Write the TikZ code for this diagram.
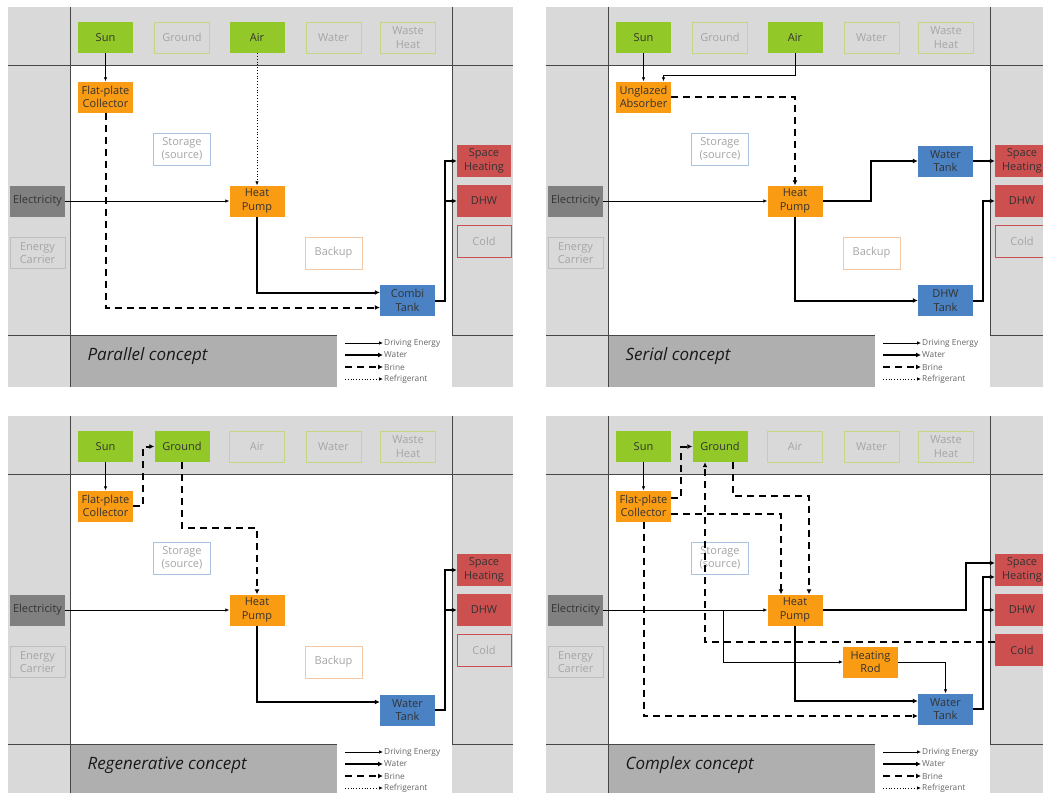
\documentclass[tikz,border=0pt]{standalone}
\usepackage{fontspec}
\setmainfont{Open Sans}
\usepackage{xcolor}
\usepackage{tikz}
\usetikzlibrary{arrows.meta, calc, positioning}

\definecolor{bandgray}{RGB}{217,217,217}
\definecolor{capgray}{RGB}{175,175,175}
\definecolor{framegray}{RGB}{70,70,70}
\definecolor{sungreen}{RGB}{146,200,40}
\definecolor{paleolive}{RGB}{196,215,130}
\definecolor{fadegray}{RGB}{165,165,165}
\definecolor{convorange}{RGB}{250,155,20}
\definecolor{tankblue}{RGB}{75,130,195}
\definecolor{sinkred}{RGB}{205,80,80}
\definecolor{elecgray}{RGB}{128,128,128}
\definecolor{storeblue}{RGB}{170,195,225}
\definecolor{backorange}{RGB}{245,200,165}
\definecolor{carriergray}{RGB}{190,190,190}

\newcommand{\boxfont}{\fontsize{11}{13.5}\selectfont}

\tikzset{
  box/.style={minimum width=55, minimum height=31, inner sep=0.5pt, align=center, font=\boxfont, text=black!80},
  srcon/.style={box, fill=sungreen},
  srcoff/.style={box, draw=paleolive, line width=0.9pt, text=fadegray},
  convbox/.style={box, fill=convorange},
  tankbox/.style={box, fill=tankblue},
  sinkon/.style={box, fill=sinkred, minimum width=54, minimum height=32},
  sinkoff/.style={box, draw=sinkred, line width=0.9pt, text=fadegray, minimum width=54, minimum height=32},
  elecbox/.style={box, fill=elecgray},
  carrierbox/.style={box, draw=carriergray, line width=0.9pt, text=fadegray},
  storebox/.style={box, fill=white, draw=storeblue, line width=0.9pt, text=fadegray, minimum width=57, minimum height=32},
  backupbox/.style={box, fill=white, draw=backorange, line width=0.9pt, text=fadegray, minimum width=57, minimum height=32},
  frameline/.style={draw=framegray, line width=1pt},
  drive/.style={line width=0.7pt, -{Latex[length=4pt,width=3.5pt]}},
  water/.style={line width=2pt, -{Latex[length=5pt,width=5pt]}},
  brine/.style={line width=2pt, dash pattern=on 7pt off 5pt, -{Latex[length=5pt,width=5pt]}},
  refrig/.style={line width=0.8pt, dotted, -{Latex[length=4pt,width=3.5pt]}},
  legtext/.style={font=\fontsize{8.3}{10}\selectfont, text=black!60, inner sep=1pt, anchor=west},
  caption/.style={font=\fontsize{17}{20}\selectfont\itshape, text=black!90, anchor=west},
}

% frame, legend and the nodes that every concept shares
\newcommand{\conceptframe}[1]{%
  \fill[bandgray] (8,7) rectangle (513,387);
  \fill[white] (70,65) rectangle (452,335);
  \fill[white] (337,335) rectangle (452,387);
  \fill[capgray] (70,335) rectangle (337,387);
  \draw[frameline] (70,7) -- (70,387);
  \draw[frameline] (452,7) -- (452,335);
  \draw[frameline] (8,65) -- (513,65);
  \draw[frameline] (8,335) -- (337,335);
  \draw[frameline] (452,335) -- (513,335);
  \node[caption] (title) at (84,356) {#1};
  % legend
  \foreach \i/\yy/\st/\lab in {1/343/drive/Driving Energy, 2/355/water/Water, 3/367/brine/Brine, 4/379/refrig/Refrigerant}{
    \coordinate (legs\i) at (345,\yy);
    \node[legtext] (leg\i) at (383,\yy) {\lab};
    \draw[\st] (legs\i) -- (leg\i);
  }
  % sources, storage, driving energy and sinks
  \node[srcon] (sun) at (105.5,37.5) {Sun};
  \node[srcoff] (water) at (333.5,37.5) {Water};
  \node[srcoff] (waste) at (408,37.5) {Waste\\Heat};
  \node[storebox] (store) at (182,149) {Storage\\(source)};
  \node[convbox] (hp) at (257,201) {Heat\\Pump};
  \node[elecbox] (elec) at (37.5,201) {Electricity};
  \node[carrierbox] (carrier) at (37.5,253) {Energy\\Carrier};
  \node[sinkon] (sh) at (484,161) {Space\\Heating};
  \node[sinkon] (dhw) at (484,201) {DHW};
}

\begin{document}
\begin{tikzpicture}[x=1pt, y=-1pt]
  \useasboundingbox (0,0) rectangle (1043,792);

  % Parallel concept
  \begin{scope}[name prefix=pa-]
    \conceptframe{Parallel concept}
    \node[srcoff] (ground) at (182,37.5) {Ground};
    \node[srcon] (air) at (257,37.5) {Air};
    \node[sinkoff] (cold) at (484,241) {Cold};
    \node[backupbox] (backup) at (333.5,253) {Backup};
    \node[convbox] (coll) at (105.5,97) {Flat-plate\\Collector};
    \node[tankbox] (tank) at (407.5,300.5) {Combi\\Tank};

    \draw[drive] (sun) -- (coll);
    \draw[refrig] (air) -- (hp);
    \draw[drive] (elec) -- (hp);
    \draw[brine] (coll) |- ([yshift=-7pt]tank.west);
    \draw[water] (hp) |- ([yshift=8pt]tank.west);
    \coordinate (jn) at ($(tank.east)+(10,0)$);
    \draw[water] (tank.east) -- (jn) |- (sh);
    \draw[water] (jn |- dhw) -- (dhw);
  \end{scope}

  % Serial concept
  \begin{scope}[shift={(538,0)}, name prefix=se-]
    \conceptframe{Serial concept}
    \node[srcoff] (ground) at (182,37.5) {Ground};
    \node[srcon] (air) at (257,37.5) {Air};
    \node[sinkoff] (cold) at (484,241) {Cold};
    \node[backupbox] (backup) at (333.5,253) {Backup};
    \node[convbox] (absb) at (105.5,97) {Unglazed\\Absorber};
    \node[tankbox] (wtank) at (407.5,161) {Water\\Tank};
    \node[tankbox] (dtank) at (407.5,300.5) {DHW\\Tank};

    \draw[drive] (sun) -- (absb);
    \draw[drive] (air.south) -- ++(0,22) -| ([xshift=20pt]absb.north);
    \draw[brine] (absb) -| (hp);
    \draw[drive] (elec) -- (hp);
    \draw[water] (hp.east) -- ++(48,0) |- (wtank);
    \draw[water] (wtank) -- (sh);
    \draw[water] (hp) |- (dtank);
    \draw[water] (dtank.east) -- ++(10,0) |- (dhw);
  \end{scope}

  % Regenerative concept
  \begin{scope}[shift={(0,409)}, name prefix=re-]
    \conceptframe{Regenerative concept}
    \node[srcon] (ground) at (182,37.5) {Ground};
    \node[srcoff] (air) at (257,37.5) {Air};
    \node[sinkoff] (cold) at (484,241) {Cold};
    \node[backupbox] (backup) at (333.5,253) {Backup};
    \node[convbox] (coll) at (105.5,97) {Flat-plate\\Collector};
    \node[tankbox] (tank) at (407.5,301) {Water\\Tank};

    \draw[drive] (sun) -- (coll);
    \draw[brine] (coll.east) -- ++(10,0) |- (ground);
    \draw[brine] (ground.south) -- ++(0,66) -| (hp);
    \draw[drive] (elec) -- (hp);
    \draw[water] (hp) |- ([yshift=8pt]tank.west);
    \coordinate (jn) at ($(tank.east)+(10,0)$);
    \draw[water] (tank.east) -- (jn) |- (sh);
    \draw[water] (jn |- dhw) -- (dhw);
  \end{scope}

  % Complex concept
  \begin{scope}[shift={(538,409)}, name prefix=co-]
    \conceptframe{Complex concept}
    \node[srcon] (ground) at (182,37.5) {Ground};
    \node[srcoff] (air) at (257,37.5) {Air};
    \node[sinkon] (cold) at (484,241) {Cold};
    \node[convbox] (rod) at (332.5,253) {Heating\\Rod};
    \node[convbox] (coll) at (105.5,97) {Flat-plate\\Collector};
    \node[tankbox] (tank) at (407.5,300) {Water\\Tank};

    \draw[drive] (sun) -- (coll);
    \draw[brine] ([yshift=8pt]coll.east) -- ++(10,0) |- (ground);
    \draw[brine] ([yshift=-8pt]coll.east) -| ([xshift=-14pt]hp.north);
    \draw[brine] ([xshift=13pt]ground.south) -- ++(0,34) -| ([xshift=14pt]hp.north);
    \draw[brine] (coll) |- ([yshift=-7pt]tank.west);
    \draw[brine] ([yshift=8pt]cold.west) -| ([xshift=-15pt]ground.south);
    \draw[drive] (elec) -- (hp);
    \coordinate (eb) at ($(hp.west)+(-44,0)$);
    \draw[drive] (eb) |- (rod);
    \draw[drive] (rod) -| (tank);
    \draw[water] (hp) |- ([yshift=8pt]tank.west);
    \draw[water] (hp.east) -- ++(143,0) |- ([yshift=7pt]sh.west);
    \coordinate (jn) at ($(tank.east)+(10,0)$);
    \draw[water] (tank.east) -- (jn) |- ([yshift=-7pt]sh.west);
    \draw[water] (jn |- dhw) -- (dhw);
  \end{scope}
\end{tikzpicture}
\end{document}
